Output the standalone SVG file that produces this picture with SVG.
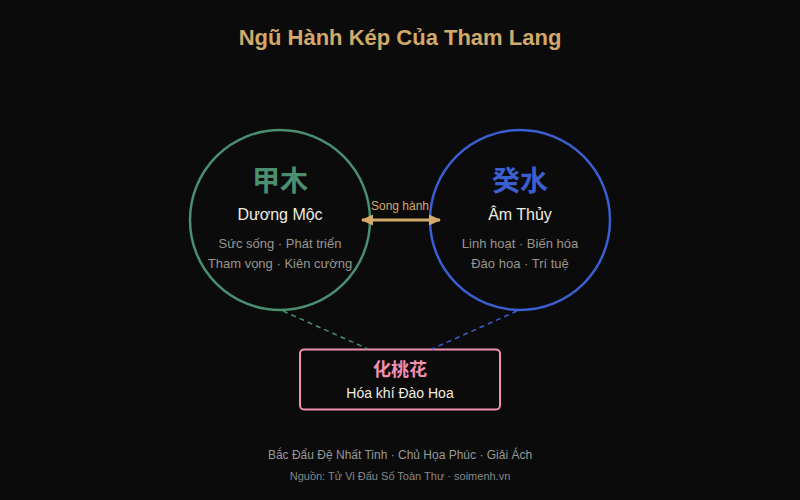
<svg xmlns="http://www.w3.org/2000/svg" width="800" height="500" viewBox="0 0 800 500">
<style>
text{font-family:"Liberation Sans","Noto Sans CJK SC",sans-serif;text-anchor:middle}
.cjk{font-family:"Noto Sans CJK SC","Liberation Sans",sans-serif;font-weight:bold}
.name{fill:#f0ece0;font-size:16px}
.desc{fill:#9a968e;font-size:13px}
</style>
<defs>
<marker id="ah" viewBox="0 0 12 12" refX="11" refY="6" markerWidth="12" markerHeight="12" markerUnits="userSpaceOnUse" orient="auto-start-reverse">
<path d="M0,0.5 L12,6 L0,11.5 Z" fill="#d4aa6a"/>
</marker>
</defs>
<rect width="800" height="500" fill="#0b0b0b"/>
<text x="400" y="45" font-size="22" font-weight="bold" fill="#d1a96a">Ngũ Hành Kép Của Tham Lang</text>
<g id="node-giap-moc">
<circle cx="280" cy="220" r="90" fill="none" stroke="#4a8f70" stroke-width="2.5"/>
<text class="cjk" x="280" y="191" font-size="28" fill="#4a8f70">甲木</text>
<text class="name" x="280" y="220">Dương Mộc</text>
<text class="desc" x="280" y="248">Sức sống · Phát triển</text>
<text class="desc" x="280" y="268">Tham vọng · Kiên cường</text>
</g>
<g id="node-quy-thuy">
<circle cx="520" cy="220" r="90" fill="none" stroke="#3b5fd0" stroke-width="2.5"/>
<text class="cjk" x="520" y="191" font-size="28" fill="#3b5fd0">癸水</text>
<text class="name" x="520" y="220">Âm Thủy</text>
<text class="desc" x="520" y="248">Linh hoạt · Biến hóa</text>
<text class="desc" x="520" y="268">Đào hoa · Trí tuệ</text>
</g>
<g id="node-dao-hoa">
<rect x="300" y="349.5" width="200" height="60" rx="4" fill="#0b0b0b" stroke="#f08fb0" stroke-width="2"/>
<text class="cjk" x="400" y="376" font-size="18" fill="#f08fb0">化桃花</text>
<text class="name" x="400" y="398" style="font-size:14px">Hóa khí Đào Hoa</text>
</g>
<g id="connectors">
<line x1="362" y1="220" x2="440" y2="220" stroke="#d4aa6a" stroke-width="3" marker-start="url(#ah)" marker-end="url(#ah)"/>
<text x="400" y="210" font-size="12" fill="#d4aa6a">Song hành</text>
<line x1="283" y1="311" x2="368" y2="349" stroke="#4a8f70" stroke-width="1.5" stroke-dasharray="5,4"/>
<line x1="517" y1="311" x2="432" y2="349" stroke="#3b5fd0" stroke-width="1.5" stroke-dasharray="5,4"/>
</g>
<text x="400" y="459" font-size="12" fill="#999">Bắc Đẩu Đệ Nhất Tinh · Chủ Họa Phúc · Giải Ách</text>
<text x="400" y="480" font-size="11" fill="#888">Nguồn: Tử Vi Đẩu Số Toàn Thư · soimenh.vn</text>
</svg>
